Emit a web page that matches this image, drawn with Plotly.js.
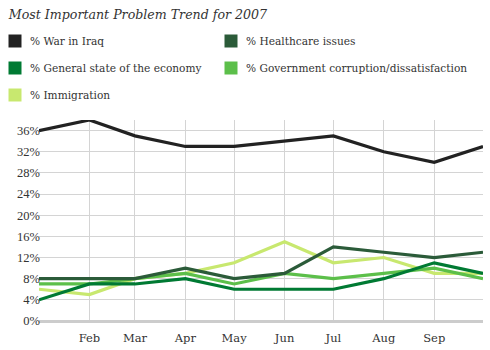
<!DOCTYPE html>
<html>
<head>
<meta charset="utf-8">
<script src="https://cdn.plot.ly/plotly-3.0.1.min.js"></script>
<style>html,body{margin:0;padding:0;background:#fff}#chart{width:490px;height:350px}</style>
</head>
<body>
<div id="chart"></div>
<script>
var months = ["2007-01-01","2007-02-01","2007-03-01","2007-04-01","2007-05-01","2007-06-01","2007-07-01","2007-08-01","2007-09-01","2007-10-01"];
var iraq        = [36, 38, 35, 33, 33, 34, 35, 32, 30, 33];
var healthcare  = [8, 8, 8, 10, 8, 9, 14, 13, 12, 13];
var economy     = [4, 7, 7, 8, 6, 6, 6, 8, 11, 9];
var corruption  = [7, 7, 8, 9, 7, 9, 8, 9, 10, 8];
var immigration = [6, 5, 8, 9, 11, 15, 11, 12, 9, 9];
var seriesNames = ["% War in Iraq", "% Healthcare issues", "% General state of the economy", "% Government corruption/dissatisfaction", "% Immigration"];
var tickDates = ["2007-02-01","2007-03-01","2007-04-01","2007-05-01","2007-06-01","2007-07-01","2007-08-01","2007-09-01"];
var tickText = ["Feb","Mar","Apr","May","Jun","Jul","Aug","Sep"];
var yTicks = [0,4,8,12,16,20,24,28,32,36];
var yTickText = ["0%","4%","8%","12%","16%","20%","24%","28%","32%","36%"];

var colors = ["#222222", "#2b5b39", "#007a33", "#5cbf4a", "#c8e86f"];
var values = [iraq, healthcare, economy, corruption, immigration];
var order = [4, 3, 1, 2, 0];

// layout geometry (pixels)
var W = 490, H = 350, ML = 39, MR = 7, MT = 120, MB = 29;
var PW = W - ML - MR, PH = H - MT - MB;
function px(x){ return (x - ML) / PW; }
function py(y){ return (H - MB - y) / PH; }
var legendSlots = [[15, 41], [231, 41], [15, 68], [231, 68], [15, 95]];

var traces = [];
order.forEach(function(i){
  traces.push({
    x: months, y: values[i], type: "scatter", mode: "lines", name: seriesNames[i],
    line: {color: colors[i], width: 3.2}, showlegend: false, hoverinfo: "skip"
  });
});

var serif = "'DejaVu Serif', 'Liberation Serif', serif";
var serif2 = "'Liberation Serif', 'DejaVu Serif', serif";
var shapes = [], annotations = [];
seriesNames.forEach(function(name, i){
  var cx = legendSlots[i][0], cy = legendSlots[i][1];
  shapes.push({
    type: "rect", xref: "paper", yref: "paper",
    x0: px(cx - 6.5), x1: px(cx + 6.5), y0: py(cy + 6.5), y1: py(cy - 6.5),
    fillcolor: colors[i], line: {width: 0}
  });
  annotations.push({
    text: name, xref: "paper", yref: "paper",
    x: px(cx + 13), y: py(cy), xanchor: "left", yanchor: "middle",
    showarrow: false, font: {family: serif, size: 10.6, color: "#333"}
  });
});

var layout = {
  width: W, height: H,
  font: {family: serif, size: 11, color: "#333"},
  margin: {l: ML, r: MR, t: MT, b: MB},
  paper_bgcolor: "#fff", plot_bgcolor: "#fff",
  showlegend: false,
  title: {
    text: "<i>Most Important Problem Trend for 2007</i>",
    xref: "container", yref: "container", x: 0.018, xanchor: "left",
    y: 1 - 15/350, yanchor: "middle",
    font: {family: serif, size: 12.6, color: "#333"}
  },
  shapes: shapes,
  annotations: annotations,
  xaxis: {
    type: "date", range: ["2007-01-01", "2007-10-01"],
    tickmode: "array", tickvals: tickDates, ticktext: tickText,
    showgrid: true, gridcolor: "#d4d4d4", gridwidth: 1,
    zeroline: false, showline: false, ticks: "",
    ticklabelstandoff: 8,
    tickfont: {family: serif, size: 11.5, color: "#333"},
    fixedrange: true
  },
  yaxis: {
    range: [0, 38], tickmode: "array", tickvals: yTicks, ticktext: yTickText,
    showgrid: true, gridcolor: "#d4d4d4", gridwidth: 1,
    zeroline: true, zerolinecolor: "#cccccc", zerolinewidth: 3,
    showline: false, ticks: "",
    ticklabelstandoff: -2,
    tickfont: {family: serif2, size: 12.5, color: "#333"},
    fixedrange: true
  },
  hovermode: false
};

Plotly.newPlot("chart", traces, layout, {displayModeBar: false, staticPlot: true});
</script>
</body>
</html>
